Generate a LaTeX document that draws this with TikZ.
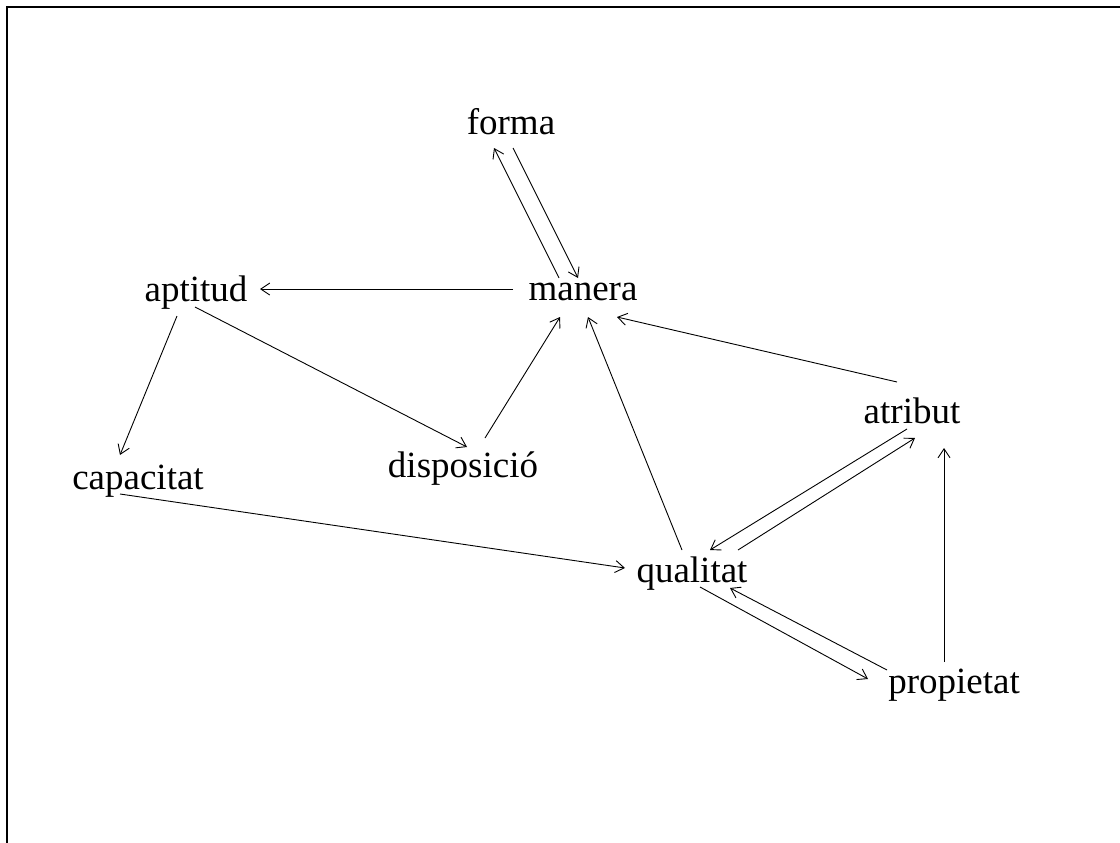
\documentclass[tikz,border=0pt]{standalone}
\usepackage{fontspec}
\setmainfont{Liberation Serif}
\usetikzlibrary{arrows.meta}
\begin{document}
\begin{tikzpicture}[x=1pt,y=-1pt,
  term/.style={anchor=base,inner sep=0pt,font=\fontsize{37}{42}\selectfont},
  link/.style={line width=0.9pt,-{Straight Barb[length=9pt,width=12pt,line width=0.9pt]}}]
\useasboundingbox (0,0) rectangle (1120,843);
\fill[white] (0,0) rectangle (1120,843);
% frame running off the right and bottom edges
\draw[line width=2.6pt] (7,850) -- (7,7) -- (1130,7);

\node[term] (forma)      at (511,134) {forma};
\node[term] (manera)     at (583,300) {manera};
\node[term] (aptitud)    at (196,301) {aptitud};
\node[term] (capacitat)  at (138,489) {capacitat};
\node[term] (disposicio) at (463,477) {disposició};
\node[term] (atribut)    at (912,423) {atribut};
\node[term] (qualitat)   at (692,582) {qualitat};
\node[term] (propietat)  at (954,693) {propietat};

\draw[link] ([shift={(-24,-22)}]manera.base) -- ([shift={(-17,14)}]forma.base);
\draw[link] ([shift={(2,14)}]forma.base) -- ([shift={(-5,-22)}]manera.base);
\draw[link] ([shift={(-70,-11)}]manera.base) -- ([shift={(64,-12)}]aptitud.base);
\draw[link] ([shift={(-19,15)}]aptitud.base) -- ([shift={(-18,-34)}]capacitat.base);
\draw[link] ([shift={(-1,6)}]aptitud.base) -- ([shift={(4,-30)}]disposicio.base);
\draw[link] ([shift={(22,-39)}]disposicio.base) -- ([shift={(-23,17)}]manera.base);
\draw[link] ([shift={(-10,-32)}]qualitat.base) -- ([shift={(5,17)}]manera.base);
\draw[link] ([shift={(-15,-41)}]atribut.base) -- ([shift={(34,17)}]manera.base);
\draw[link] ([shift={(-5,6)}]atribut.base) -- ([shift={(18,-32)}]qualitat.base);
\draw[link] ([shift={(46,-32)}]qualitat.base) -- ([shift={(3,15)}]atribut.base);
\draw[link] ([shift={(-18,5)}]capacitat.base) -- ([shift={(-67,-14)}]qualitat.base);
\draw[link] ([shift={(8,5)}]qualitat.base) -- ([shift={(-86,-14)}]propietat.base);
\draw[link] ([shift={(-67,-23)}]propietat.base) -- ([shift={(38,6)}]qualitat.base);
\draw[link] ([shift={(-10,-31)}]propietat.base) -- ([shift={(32,25)}]atribut.base);
\end{tikzpicture}
\end{document}
